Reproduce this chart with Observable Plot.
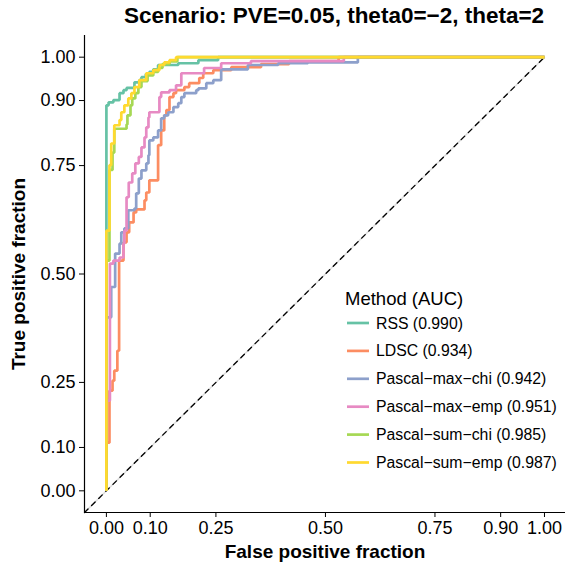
<!DOCTYPE html>
<html>
<head>
<meta charset="utf-8">
<script src="https://cdn.jsdelivr.net/npm/d3@7"></script>
<script src="https://cdn.jsdelivr.net/npm/@observablehq/plot@0.6"></script>
<style>
  html, body { margin: 0; padding: 0; background: #fff; }
  #chart svg { font-family: "Liberation Sans", Arial, Helvetica, sans-serif; display: block; }
</style>
</head>
<body>
<div id="chart"></div>
<script>
// ---- data ----
const methods = ["RSS", "LDSC", "Pascal\u2212max\u2212chi", "Pascal\u2212max\u2212emp", "Pascal\u2212sum\u2212chi", "Pascal\u2212sum\u2212emp"];
const aucs = [0.990, 0.934, 0.942, 0.951, 0.985, 0.987];
const colors = ["#66C2A5", "#FC8D62", "#8DA0CB", "#E78AC3", "#A6D854", "#FFD92F"];
const xTicks = [0, 0.10, 0.25, 0.50, 0.75, 0.90, 1.00];
const yTicks = [0, 0.10, 0.25, 0.50, 0.75, 0.90, 1.00];
const titleText = "Scenario: PVE=0.05, theta0=\u22122, theta=2";
const xTitle = "False positive fraction";
const yTitle = "True positive fraction";
const legendTitle = "Method (AUC)";
const diagonal = [-0.05, 1];

// ROC corner points [FPR, TPR] (step-after)
const rssROC = [[0,0],[0,0.889],[0.005,0.896],[0.016,0.901],[0.030,0.917],[0.039,0.924],[0.046,0.929],[0.064,0.942],[0.075,0.947],[0.080,0.954],[0.090,0.961],[0.098,0.966],[0.107,0.972],[0.118,0.982],[0.164,0.986],[0.210,0.993],[0.255,1],[1,1]];
const ldscROC = [[0,0],[0,0.111],[0.007,0.231],[0.014,0.254],[0.018,0.277],[0.025,0.323],[0.029,0.531],[0.039,0.573],[0.046,0.596],[0.052,0.619],[0.062,0.642],[0.068,0.649],[0.087,0.670],[0.091,0.688],[0.098,0.716],[0.118,0.797],[0.125,0.831],[0.132,0.866],[0.137,0.878],[0.144,0.908],[0.153,0.917],[0.159,0.924],[0.178,0.931],[0.189,0.940],[0.212,0.952],[0.221,0.963],[0.244,0.970],[0.285,0.977],[0.353,0.984],[0.417,0.991],[0.530,1],[1,1]];
const maxChiROC = [[0,0],[0,0.400],[0.011,0.470],[0.020,0.547],[0.030,0.570],[0.034,0.596],[0.041,0.605],[0.050,0.647],[0.064,0.651],[0.068,0.686],[0.074,0.720],[0.080,0.739],[0.091,0.755],[0.096,0.774],[0.098,0.808],[0.107,0.815],[0.118,0.831],[0.125,0.859],[0.132,0.866],[0.141,0.873],[0.153,0.885],[0.164,0.894],[0.171,0.908],[0.178,0.917],[0.205,0.924],[0.210,0.928],[0.228,0.940],[0.244,0.947],[0.262,0.972],[0.323,0.982],[0.392,0.986],[0.460,0.988],[0.574,1],[1,1]];
const maxEmpROC = [[0,0],[0,0.208],[0.008,0.524],[0.016,0.531],[0.030,0.538],[0.039,0.570],[0.041,0.600],[0.046,0.677],[0.051,0.711],[0.059,0.732],[0.066,0.755],[0.074,0.770],[0.080,0.792],[0.087,0.815],[0.091,0.838],[0.096,0.861],[0.098,0.873],[0.121,0.908],[0.125,0.919],[0.144,0.924],[0.159,0.935],[0.171,0.963],[0.223,0.975],[0.262,0.986],[0.330,0.991],[0.542,1],[1,1]];
const sumChiROC = [[0,0],[0,0.531],[0.007,0.740],[0.014,0.780],[0.018,0.835],[0.046,0.845],[0.048,0.866],[0.055,0.889],[0.059,0.905],[0.066,0.917],[0.073,0.931],[0.080,0.945],[0.094,0.958],[0.107,0.966],[0.118,0.975],[0.128,0.984],[0.144,0.990],[0.162,1],[1,1]];
const sumEmpROC = [[0,0],[0,0.600],[0.007,0.751],[0.011,0.801],[0.018,0.843],[0.030,0.855],[0.034,0.873],[0.041,0.889],[0.050,0.905],[0.057,0.917],[0.064,0.931],[0.075,0.947],[0.091,0.963],[0.107,0.970],[0.121,0.982],[0.132,0.988],[0.144,0.993],[0.159,1],[1,1]];
const curves = [rssROC, ldscROC, maxChiROC, maxEmpROC, sumChiROC, sumEmpROC];

// ---- chart ----
const W = 565, H = 569;
const font = "\"Liberation Sans\", Arial, Helvetica, sans-serif";

const curveMarks = curves.map((c, i) =>
  Plot.line(c, {x: d => d[0], y: d => d[1], stroke: colors[i], strokeWidth: 2.7, curve: "step-after", strokeLinejoin: "miter", strokeLinecap: "butt"})
);

const chart = Plot.plot({
  width: W,
  height: H,
  marginLeft: 84,
  marginRight: 0,
  marginTop: 35,
  marginBottom: 57,
  style: {fontFamily: font, color: "#000", background: "#fff"},
  x: {domain: [-0.05, 1.048]},
  y: {domain: [-0.05, 1.05]},
  marks: [
    Plot.line(diagonal, {x: d => d, y: d => d, stroke: "#dddddd", strokeWidth: 1.5}),
    Plot.line(diagonal, {x: d => d, y: d => d, stroke: "#000", strokeWidth: 1.3, strokeDasharray: "5,5"}),
    ...curveMarks,
    Plot.ruleX([-0.05], {stroke: "#000", strokeWidth: 1.2}),
    Plot.ruleY([-0.05], {stroke: "#000", strokeWidth: 1.2}),
    Plot.axisX({ticks: xTicks, tickFormat: d3.format(".2f"), tickSize: 5, tickPadding: 4, fontSize: 18, label: null, stroke: "#000"}),
    Plot.axisY({ticks: yTicks, tickFormat: d3.format(".2f"), tickSize: 5, tickPadding: 4, fontSize: 18, label: null, stroke: "#000"}),
    Plot.text([xTitle], {frameAnchor: "bottom", lineAnchor: "bottom", dy: 45, text: d => d, fontSize: 19, fontWeight: "bold", fill: "#000"}),
    Plot.text([yTitle], {frameAnchor: "left", textAnchor: "middle", lineAnchor: "middle", rotate: -90, dx: -66, text: d => d, fontSize: 19, fontWeight: "bold", fill: "#000"}),
    Plot.text([titleText], {frameAnchor: "top", lineAnchor: "bottom", dy: -13, dx: 9, text: d => d, fontSize: 22.5, fontWeight: "bold", fill: "#000"})
  ]
});

document.getElementById("chart").appendChild(chart);

// ---- legend (inside panel, bottom right) ----
const svg = d3.select(chart);
const lg = svg.append("g").attr("font-family", font).attr("fill", "#000").attr("text-anchor", "start");
const lgX = 345, lgTitleY = 305, lgRow0 = 323, lgStep = 27.9;
lg.append("text").attr("x", lgX).attr("y", lgTitleY).attr("font-size", 18.5).attr("text-anchor", "start").text(legendTitle);
methods.forEach((m, i) => {
  const cy = lgRow0 + i * lgStep;
  lg.append("line").attr("x1", lgX + 2).attr("x2", lgX + 24).attr("y1", cy).attr("y2", cy)
    .attr("stroke", colors[i]).attr("stroke-width", 2.7);
  lg.append("text").attr("x", lgX + 31).attr("y", cy).attr("dy", "0.35em").attr("font-size", 15.8)
    .attr("text-anchor", "start").text(`${m} (${aucs[i].toFixed(3)})`);
});
</script>
</body>
</html>
